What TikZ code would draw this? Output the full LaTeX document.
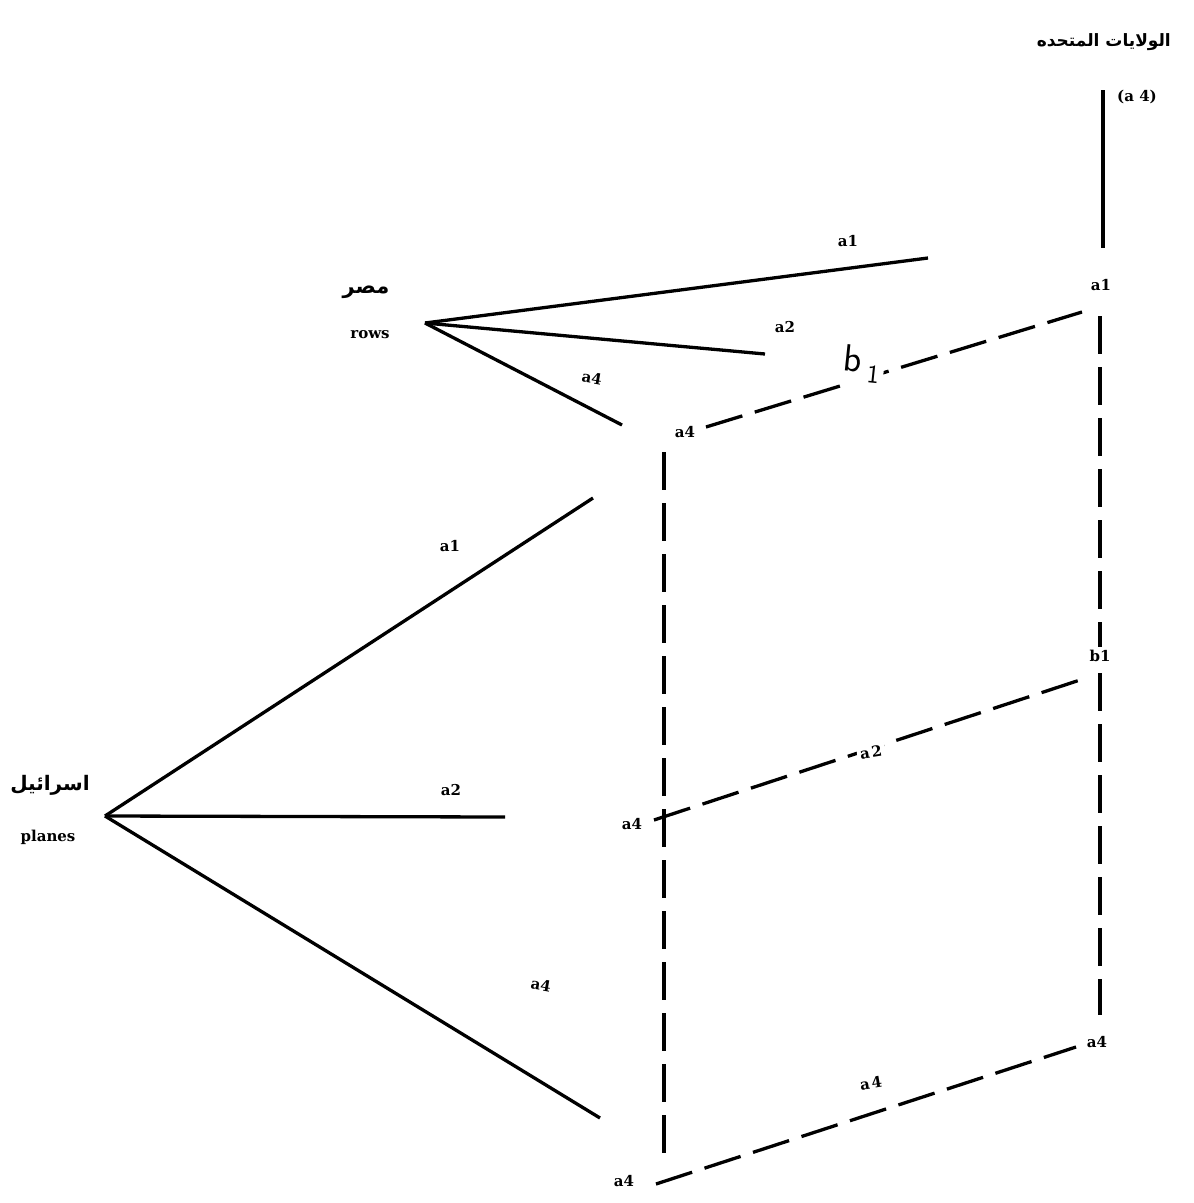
\documentclass[tikz,border=0pt]{standalone}
\usepackage{fontspec}
\setmainfont{DejaVu Serif}
\newfontfamily\arabicfont[Script=Arabic]{DejaVu Sans}
\TeXXeTstate=1
\begin{document}
\begin{tikzpicture}[x=1pt,y=-1pt,
  lbl/.style={font=\fontsize{15}{15}\selectfont\bfseries, inner sep=1pt},
  onln/.style={lbl, fill=white, inner sep=3pt},
  arlbl/.style={font=\fontsize{17}{17}\selectfont\arabicfont\bfseries, inner sep=1pt},
  solidln/.style={line width=3.3pt},
  dashln/.style={line width=3.3pt, dash pattern=on 38pt off 13pt}]
\useasboundingbox (0,0) rectangle (1194,1203);
% coordinates
\coordinate (usTop) at (1103,90);
\coordinate (usBot) at (1103,248);
\coordinate (rTop) at (1100,316);
\coordinate (rBot) at (1100,1015);
\coordinate (lTop) at (664,452);
\coordinate (lBot) at (664,1160);
\coordinate (d1a) at (706,427);
\coordinate (d1b) at (1082,312);
\coordinate (d2a) at (654,820);
\coordinate (d2b) at (1080,680);
\coordinate (d3a) at (656,1184);
\coordinate (d3b) at (1076,1047);
\coordinate (eg) at (425,323);
\coordinate (eg1) at (928,258);
\coordinate (eg2) at (765,354);
\coordinate (eg4) at (622,425);
\coordinate (is) at (105,816);
\coordinate (is1) at (593,498);
\coordinate (is2) at (505,817);
\coordinate (is4) at (600,1118);
% lines
\draw[solidln] (usTop) -- (usBot);
\draw[dashln] (rTop) -- (rBot);
\draw[dashln] (lTop) -- (lBot);
\draw[dashln] (d1a) -- (d1b);
\draw[dashln] (d2a) -- (d2b);
\draw[dashln] (d3a) -- (d3b);
\draw[solidln] (eg) -- (eg1);
\draw[solidln] (eg) -- (eg2);
\draw[solidln] (eg) -- (eg4);
\draw[solidln] (is) -- (is1);
\draw[solidln] (is) -- (is2);
\draw[solidln] (is) -- (is4);
% handwritten b1
\node[fill=white, inner sep=4pt, font=\fontsize{38}{38}\selectfont\sffamily, rotate=-6] (hb) at (862,364) {b\kern6pt\raisebox{-10pt}{\fontsize{26}{26}\selectfont 1}};
% labels
\node[arlbl, anchor=east] (us) at (1172,42) {\beginR الولايات المتحده\endR};
\node[lbl] (a4top) at (1137,97) {(a 4)};
\node[lbl] (ra1) at (1101,285) {a1};
\node[onln] (rb1) at (1100,656) {b1};
\node[onln] (ra4) at (1097,1042) {a4};
\node[lbl] (la4a) at (685,432) {a4};
\node[lbl] (la4b) at (632,824) {a4};
\node[lbl] (la4c) at (624,1181) {a4};
\node[onln, rotate=9] (ma2) at (871,752) {a\kern2pt 2};
\node[onln, rotate=9] (ma4) at (871,1083) {a\kern2pt 4};
\node[lbl] (ea1) at (848,241) {a1};
\node[lbl] (ea2) at (785,327) {a2};
\node[lbl, rotate=-10] (ea4) at (592,378) {a4};
\node[arlbl, font=\fontsize{21}{21}\selectfont\arabicfont\bfseries] (egypt) at (366,292) {\beginR مصر\endR};
\node[lbl] (rows) at (370,335) {rows};
\node[lbl] (ia1) at (450,546) {a1};
\node[lbl] (ia2) at (451,790) {a2};
\node[lbl, rotate=-10] (ia4) at (541,985) {a4};
\node[arlbl, font=\fontsize{20}{20}\selectfont\arabicfont\bfseries] (israel) at (50,785) {\beginR اسرائيل\endR};
\node[lbl] (planes) at (48,837) {planes};
\end{tikzpicture}
\end{document}
